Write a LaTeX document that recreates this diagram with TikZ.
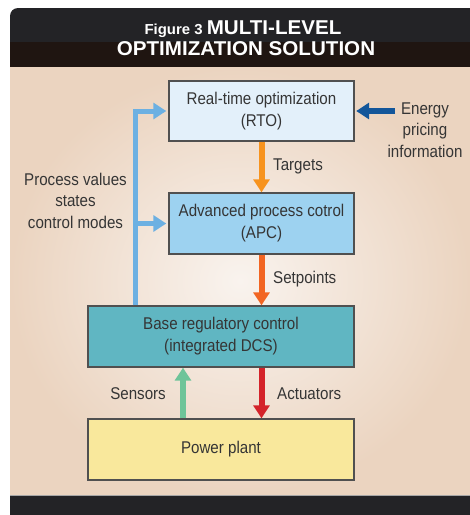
\documentclass[tikz,border=0pt]{standalone}
\usepackage{fontspec}
\setmainfont{Liberation Sans}[FakeStretch=0.89]
\newfontfamily\titlefont{Liberation Sans}[FakeStretch=1.03]
\usetikzlibrary{arrows.meta}
\definecolor{hdrtop}{HTML}{232326}
\definecolor{hdrbot}{HTML}{1F1511}
\definecolor{bgout}{HTML}{EBD4C0}
\definecolor{bgin}{HTML}{F9F3EE}
\definecolor{rtofill}{HTML}{E3F0FA}
\definecolor{apcfill}{HTML}{9DD2F0}
\definecolor{brcfill}{HTML}{60B6C2}
\definecolor{ppfill}{HTML}{F9E89C}
\definecolor{boxline}{HTML}{505050}
\definecolor{txt}{HTML}{353535}
\definecolor{cTarget}{HTML}{F7931E}
\definecolor{cSet}{HTML}{F26522}
\definecolor{cAct}{HTML}{D4232A}
\definecolor{cSens}{HTML}{6EC499}
\definecolor{cFb}{HTML}{6CB0E2}
\definecolor{cEn}{HTML}{13569A}
\tikzset{
  blk/.style={draw=boxline, line width=1.4pt, inner sep=0pt, align=center,
    text=txt, font=\fontsize{17}{22}\selectfont},
  lbl/.style={text=txt, font=\fontsize{17}{21.5}\selectfont, inner sep=0pt, align=center},
  fat/.style={line width=6pt, -{Triangle[length=13pt,width=16pt]}},
  fb/.style={line width=5pt, cFb, line join=miter, -{Triangle[length=13pt,width=16pt]}, shorten >=2pt},
}
\begin{document}
\begin{tikzpicture}[x=1pt,y=-1pt]
\useasboundingbox (0,0) rectangle (470,515);
% header
\fill[hdrtop, rounded corners=8pt] (10,8) rectangle (490,60);
\fill[hdrbot] (10,42) rectangle (490,67);
% background panel
\shade[inner color=bgin, outer color=bgout] (10,67) rectangle (470,495);
% bottom band
\fill[hdrtop] (10,495) rectangle (470,515);
\draw[gray!70, line width=0.8pt] (10,495.4) -- (470,495.4);
% title
\node[anchor=base, text=white, inner sep=0pt, font=\titlefont\bfseries] (title1) at (243,34.5)
  {{\fontsize{14.5}{16}\selectfont Figure 3 }{\fontsize{20}{16}\selectfont MULTI-LEVEL}};
\node[anchor=base, text=white, inner sep=0pt, font=\titlefont\bfseries\fontsize{20}{16}\selectfont] (title2) at (246,55.5)
  {OPTIMIZATION SOLUTION};
% boxes
\node[blk, fill=rtofill, minimum width=185pt, minimum height=60pt] (rto) at (261.5,111)
  {Real-time optimization\\(RTO)};
\node[blk, fill=apcfill, minimum width=185pt, minimum height=61pt] (apc) at (261.5,223.5)
  {Advanced process cotrol\\(APC)};
\node[blk, fill=brcfill, minimum width=266pt, minimum height=61pt] (brc) at (221,336.5)
  {Base regulatory control\\(integrated DCS)};
\node[blk, fill=ppfill, minimum width=266pt, minimum height=61pt] (pp) at (221,449.5)
  {Power plant};
% helper coordinates
\coordinate (fbx) at (135.5,0);
\coordinate (sx) at (183,0);
\coordinate (en) at (395,111);
% vertical arrows
\draw[fat, cTarget] (rto.south) -- (apc.north);
\draw[fat, cSet] (apc.south) -- (brc.north -| apc.south);
\draw[fat, cAct] (brc.south -| apc.south) -- (pp.north -| apc.south);
\draw[fat, cSens] (pp.north -| sx) -- (brc.south -| sx);
% feedback
\draw[fb] (brc.north -| fbx) -- (rto.west -| fbx) -- (rto.west);
\draw[fb] (apc.west -| fbx) -- (apc.west);
% energy
\draw[fat, cEn, shorten >=1.5pt] (en) -- (rto.east);
% labels
\node[lbl, anchor=base west] (ltg) at (273,170) {Targets};
\node[lbl, anchor=base west] (lsp) at (273,283) {Setpoints};
\node[lbl, anchor=base west] (lac) at (277,399) {Actuators};
\node[lbl, anchor=base east] (lse) at (166,399) {Sensors};
\node[lbl, anchor=base] (lpv) at (75.5,228) {Process values\\states\\control modes};
\node[lbl, anchor=base] (len) at (425,157) {Energy\\pricing\\information};
\end{tikzpicture}
\end{document}
